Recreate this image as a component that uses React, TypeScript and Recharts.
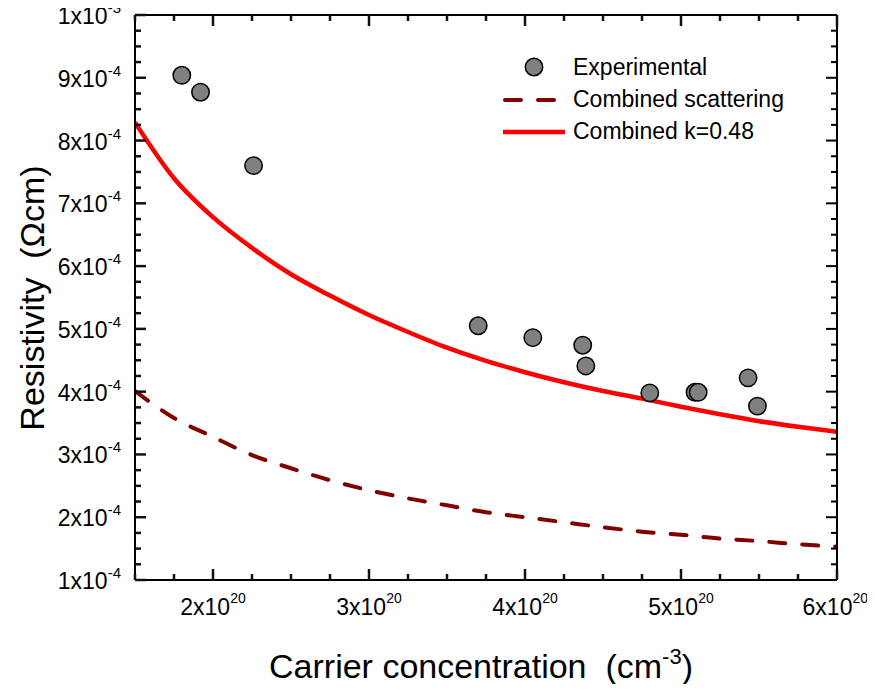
import React from 'react';
import { ComposedChart, Line, Scatter, XAxis, YAxis } from 'recharts';

// carrier concentration in units of 1e20 cm^-3, resistivity in units of 1e-4 Ohm cm
const experimentalN = [1.8, 1.92, 2.26, 3.7, 4.05, 4.37, 4.39, 4.8, 5.09, 5.11, 5.43, 5.49];
const experimentalRho = [9.04, 8.77, 7.6, 5.05, 4.86, 4.74, 4.41, 3.98, 3.99, 3.99, 4.22, 3.77];

const curveN = [1.5, 1.75, 2, 2.25, 2.5, 2.75, 3, 3.25, 3.5, 3.75, 4, 4.25, 4.5, 4.75, 5, 5.25, 5.5, 5.75, 6];
const combinedK048 = [8.29, 7.4, 6.78, 6.29, 5.87, 5.53, 5.22, 4.95, 4.7, 4.49, 4.31, 4.15, 4.01, 3.89, 3.76, 3.64, 3.53, 3.44, 3.36];
const combinedScattering = [4.01, 3.58, 3.28, 2.99, 2.78, 2.59, 2.43, 2.3, 2.19, 2.08, 2.0, 1.92, 1.84, 1.77, 1.72, 1.66, 1.62, 1.57, 1.53];

const xTicks = [1.5, 1.75, 2, 2.25, 2.5, 2.75, 3, 3.25, 3.5, 3.75, 4, 4.25, 4.5, 4.75, 5, 5.25, 5.5, 5.75, 6];
const xMajor = [2, 3, 4, 5, 6];
const yTicks = [
  1, 1.25, 1.5, 1.75, 2, 2.25, 2.5, 2.75, 3, 3.25, 3.5, 3.75, 4, 4.25, 4.5, 4.75, 5, 5.25, 5.5, 5.75,
  6, 6.25, 6.5, 6.75, 7, 7.25, 7.5, 7.75, 8, 8.25, 8.5, 8.75, 9, 9.25, 9.5, 9.75, 10,
];
const yMajor = [1, 2, 3, 4, 5, 6, 7, 8, 9, 10];

const expData = experimentalN.map((n, i) => ({ n, rho: experimentalRho[i] }));
const kData = curveN.map((n, i) => ({ n, rho: combinedK048[i] }));
const scatData = curveN.map((n, i) => ({ n, rho: combinedScattering[i] }));

const FONT = '"Liberation Sans", Arial, Helvetica, sans-serif';
const TICK = '#111';
const MAJOR = 11;
const MINOR = 6;
const MARGIN_TOP = 14;
const PLOT_TOP = MARGIN_TOP + 1;

// bottom ticks also draw the mirrored ticks on the top frame
const BottomTick = (props: any) => {
  const { x, y, payload } = props;
  const v = payload.value;
  const major = xMajor.includes(v);
  const len = major ? MAJOR : MINOR;
  const last = v === 6;
  return (
    <>
      <line x1={x} x2={x} y1={y} y2={y - len} stroke={TICK} strokeWidth={2.5} />
      <line x1={x} x2={x} y1={PLOT_TOP} y2={PLOT_TOP + len} stroke={TICK} strokeWidth={2.5} />
      <text x={last ? x + 31 : x} y={y + 35} textAnchor={last ? 'end' : 'middle'} fontSize={23} fill="#000">
        {major ? `${v}x10` : ''}
        <tspan dy={-12} fontSize={14}>{major ? '20' : ''}</tspan>
      </text>
    </>
  );
};

const LeftTick = (props: any) => {
  const { x, y, payload } = props;
  const v = payload.value;
  if (!yMajor.includes(v)) {
    return <path d={`M${x},${y}L${x + MINOR},${y}`} stroke={TICK} strokeWidth={2.5} fill="none" />;
  }
  return (
    <g>
      <path d={`M${x},${y}L${x + MAJOR},${y}`} stroke={TICK} strokeWidth={2.5} fill="none" />
      <text x={x - 14} y={y + 9} textAnchor="end" fontSize={23} fill="#000">
        {v === 10 ? 1 : v}x10<tspan dy={-11} fontSize={15}>{v === 10 ? '-3' : '-4'}</tspan>
      </text>
    </g>
  );
};

const RightTick = (props: any) => {
  const { x, y, payload } = props;
  const len = yMajor.includes(payload.value) ? MAJOR : MINOR;
  return <path d={`M${x},${y}L${x - len},${y}`} stroke="#000" strokeWidth={2} fill="none" />;
};

const Dot = (props: any) => (
  <circle cx={props.cx} cy={props.cy} r={8.7} fill="#808080" stroke="#000" strokeWidth={1.5} />
);

const XTitle = () => (
  <text x={481} y={678} textAnchor="middle" fontSize={34} fill="#000" style={{ whiteSpace: 'pre' }}>
    Carrier concentration  (cm<tspan dy={-14} fontSize={22}>-3</tspan>
    <tspan dy={14}>)</tspan>
  </text>
);

const YTitle = () => (
  <text
    x={44}
    y={298}
    transform="rotate(-90, 44, 298)"
    textAnchor="middle"
    fontSize={34}
    fill="#000"
    style={{ whiteSpace: 'pre' }}
  >
    Resistivity  (Ωcm)
  </text>
);

const LegendBox = () => (
  <g>
    <circle cx={534} cy={67} r={8.7} fill="#808080" stroke="#000" strokeWidth={1.5} />
    <text x={573} y={75} fontSize={23} fill="#000">Experimental</text>
    <line x1={505} x2={560} y1={100} y2={100} stroke="#800000" strokeWidth={4} strokeDasharray="16 17" strokeLinecap="round" />
    <text x={573} y={107} fontSize={23} fill="#000">Combined scattering</text>
    <line x1={503} x2={565} y1={132} y2={132} stroke="#ff0000" strokeWidth={4.5} />
    <text x={573} y={139} fontSize={23} fill="#000">Combined k=0.48</text>
  </g>
);

const axisLine = { stroke: '#000', strokeWidth: 2 };

export default function App() {
  return (
    <div style={{ width: 875, height: 692, margin: -8, fontFamily: FONT }}>
      <ComposedChart
        width={875}
        height={692}
        margin={{ top: MARGIN_TOP, right: 37, bottom: 0, left: 0 }}
        style={{ fontFamily: FONT }}
      >
        <XAxis
          type="number"
          dataKey="n"
          domain={[1.5, 6]}
          ticks={xTicks}
          interval={0}
          allowDataOverflow
          height={112}
          tickSize={0}
          tickMargin={0}
          tickLine={false}
          axisLine={axisLine}
          tick={BottomTick}
          label={XTitle}
        />
        <XAxis
          xAxisId="top"
          orientation="top"
          type="number"
          domain={[1.5, 6]}
          allowDataOverflow
          height={1}
          tickLine={false}
          tick={false}
          axisLine={axisLine}
        />
        <YAxis
          type="number"
          dataKey="rho"
          domain={[1, 10]}
          ticks={yTicks}
          interval={0}
          allowDataOverflow
          width={135}
          tickSize={0}
          tickMargin={0}
          tickLine={false}
          axisLine={axisLine}
          tick={LeftTick}
          label={YTitle}
        />
        <YAxis
          yAxisId="right"
          orientation="right"
          type="number"
          domain={[1, 10]}
          ticks={yTicks}
          interval={0}
          allowDataOverflow
          width={1}
          tickSize={0}
          tickMargin={0}
          tickLine={false}
          axisLine={axisLine}
          tick={RightTick}
          label={LegendBox}
        />
        <Line
          data={scatData}
          dataKey="rho"
          type="monotone"
          stroke="#800000"
          strokeWidth={4}
          strokeDasharray="16 17"
          strokeLinecap="round"
          dot={false}
          isAnimationActive={false}
        />
        <Line
          data={kData}
          dataKey="rho"
          type="monotone"
          stroke="#ff0000"
          strokeWidth={4.5}
          dot={false}
          isAnimationActive={false}
        />
        <Scatter data={expData} dataKey="rho" shape={Dot} isAnimationActive={false} />
      </ComposedChart>
    </div>
  );
}
